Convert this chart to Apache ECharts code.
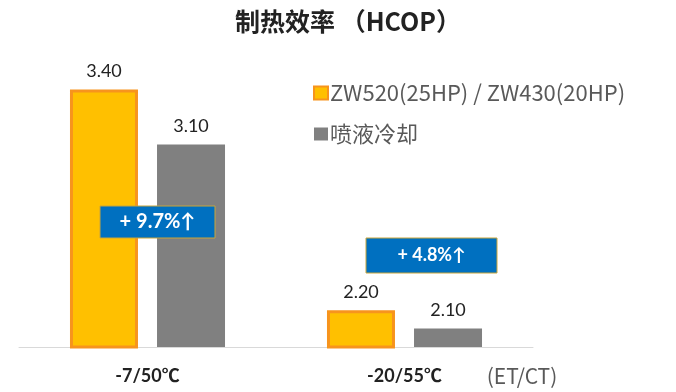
<!DOCTYPE html>
<html><head><meta charset="utf-8">
<script src="https://cdn.jsdelivr.net/npm/echarts@6/dist/echarts.min.js"></script>
<style>html,body{margin:0;padding:0;background:#fff}#c{width:676px;height:392px}</style>
</head><body><div id="c"></div>
<script>
var categories = ['-7/50℃', '-20/55℃'];
var seriesNames = ['ZW520(25HP) / ZW430(20HP)', '喷液冷却'];
var zwValues = [3.40, 2.20];
var sprayValues = [3.10, 2.10];
var gainLabels = ['+ 9.7%↑', '+ 4.8%↑'];
var titleText = '制热效率 （HCOP）';
var axisUnit = '(ET/CT)';

var chart = echarts.init(document.getElementById('c'), null, {renderer: 'canvas'});
var latin = "Lato, 'Noto Sans CJK SC', sans-serif";
var cjk = "'Noto Sans CJK SC', sans-serif";
chart.setOption({
  animation: false,
  backgroundColor: '#fff',
  title: {
    text: titleText, left: 230, top: 4,
    textStyle: {fontFamily: cjk, fontSize: 25, fontWeight: 'bold', color: '#222'}
  },
  legend: {
    orient: 'vertical', left: 308, top: 77, itemWidth: 14, itemHeight: 13, itemGap: 19,
    icon: 'rect',
    textStyle: {fontFamily: cjk, fontSize: 22, color: '#595959', padding: [0, 0, 0, -3]},
    data: seriesNames
  },
  grid: {left: 19, right: 143, top: 71, bottom: 45},
  xAxis: {
    type: 'category', data: categories,
    axisLine: {lineStyle: {color: '#d9d9d9', width: 1}},
    axisTick: {show: false},
    axisLabel: {margin: 20, fontFamily: latin, fontSize: 18, fontWeight: 'bold', color: '#222'}
  },
  yAxis: {
    type: 'value', min: 2, max: 3.5, show: false, splitLine: {show: false}
  },
  series: [
    {
      name: seriesNames[0], type: 'bar', data: zwValues, barWidth: 68, barGap: '28%', z: 2,
      itemStyle: {color: '#FFC000', borderColor: '#F7941D', borderWidth: 3},
      label: {show: true, position: 'top', distance: 9, formatter: function(p){return p.value.toFixed(2);},
        fontFamily: latin, fontSize: 18, color: '#222'}
    },
    {
      name: seriesNames[1], type: 'bar', data: sprayValues, barWidth: 68, z: 2,
      itemStyle: {color: '#808080'},
      label: {show: true, position: 'top', distance: 9, formatter: function(p){return p.value.toFixed(2);},
        fontFamily: latin, fontSize: 18, color: '#222'}
    }
  ]
});

function gainBox(cx, cy, w, h, text, fs) {
  return {
    type: 'group', x: cx, y: cy, z: 100, zlevel: 1,
    children: [
      {type: 'rect', z: 100, zlevel: 1, shape: {x: -w / 2, y: -h / 2, width: w, height: h},
        style: {fill: '#0070C0', stroke: '#C9A53A', lineWidth: 1}},
      {type: 'text', z: 101, zlevel: 1, x: 0, y: 0, style: {text: text, fill: '#fff', font: 'bold ' + fs + 'px ' + latin,
        textAlign: 'center', textVerticalAlign: 'middle'}}
    ]
  };
}
chart.setOption({
  graphic: [
    gainBox(157.5, 222, 115, 32, gainLabels[0], 20),
    gainBox(431.5, 255.5, 131, 35, gainLabels[1], 18),
    {type: 'text', x: 522, y: 376, style: {text: axisUnit, fill: '#595959', font: '21px ' + cjk,
      textAlign: 'center', textVerticalAlign: 'middle'}}
  ]
});
</script></body></html>
